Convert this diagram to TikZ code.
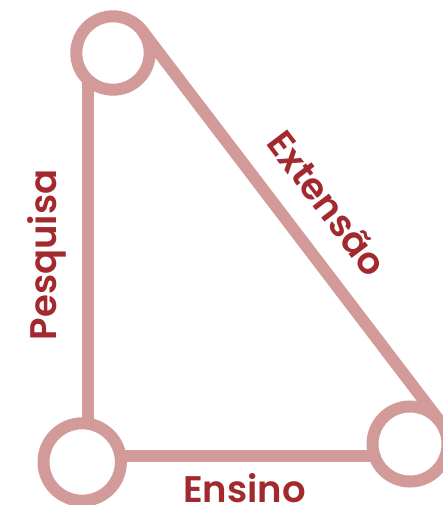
\documentclass[tikz,border=0pt]{standalone}
\usepackage{fontspec}
\setmainfont{Poppins}[BoldFont={Poppins SemiBold}]
\usepackage{tikz}
\usetikzlibrary{positioning,calc}
\definecolor{ringpink}{HTML}{D39A9A}
\definecolor{labelred}{HTML}{A2292D}

\begin{document}
\begin{tikzpicture}[x=1pt,y=-1pt,
  ring/.style={draw=ringpink,circle,line width=12pt,outer sep=0pt,fill=white},
  edge/.style={draw=ringpink,line width=12pt},
  lbl/.style={text=labelred,font=\fontsize{37}{40}\selectfont\bfseries,inner sep=0pt}]
\useasboundingbox (0,0) rectangle (443,505);
\node[ring,minimum size=73.4pt] (cTop) at (113,53) {};
\node[ring,minimum size=77.4pt] (cLeft) at (82.2,462) {};
\node[ring,minimum size=75pt] (cRight) at (410,444) {};
\draw[edge] (cTop.227) -- (cTop.227 |- cLeft.north);
\draw[edge] (cRight.199) -- (cRight.199 -| cLeft.east);
\draw[edge] (cTop.37) -- (cRight.37);
\node[lbl,rotate=90,anchor=base] (lbPesq) at (56,255) {Pesquisa};
\node[lbl,rotate=-52.8,anchor=base] (lbExt) at (316.5,211.5) {Extensão};
\node[lbl,anchor=base] (lbEns) at (244.4,502.7) {Ensino};
\end{tikzpicture}
\end{document}
